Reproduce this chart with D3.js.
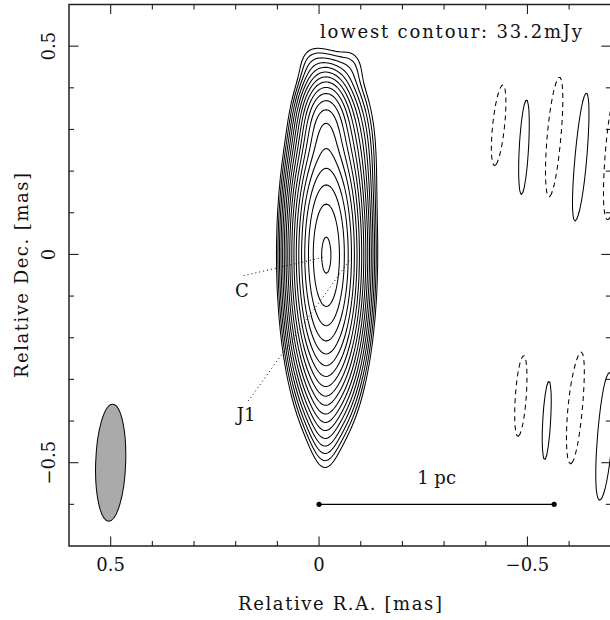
<!DOCTYPE html>
<html><head><meta charset="utf-8">
<script src="https://cdn.jsdelivr.net/npm/d3@7"></script>
<style>body{margin:0;background:#fff}text{font-family:"DejaVu Serif",serif;fill:#111}</style></head>
<body><svg id="c" width="610" height="620"></svg>
<script>
// ---------- data ----------
const lowestContour = 0.0332; // Jy
const levelFactors = [1, 1.41, 2, 2.83, 4, 5.66, 8, 11.3, 16, 22.6, 32, 45.3, 64, 90.5, 128, 181, 256, 362];
// Gaussian components of the source (RA, Dec in mas; flux in Jy; sigma in mas; tilt in deg)
const compName = ["C", "J", "T", "TR", "BL", "BR", "B"];
const compRA   = [-0.0113, -0.0353, -0.0161, -0.0785, 0.0223, -0.0780, -0.0137];
const compDec  = [0.000, -0.0048, 0.310, 0.2496, 0.464, 0.456, -0.254];
const compFlux = [9.6, 3.65, 1.23, 0.133, 0.025, 0.026, 0.21];
const compSigX = [0.0336, 0.0336, 0.0288, 0.0312, 0.024, 0.024, 0.0216];
const compSigY = [0.137, 0.137, 0.0576, 0.096, 0.0336, 0.0336, 0.12];
const compTilt = [0, 0, 0, 0, 0, 0, 0];
// side features (positive = solid, negative = dashed)
const sideRA   = [-0.431, -0.492, -0.566, -0.628, -0.705, -0.484, -0.547, -0.618, -0.683];
const sideDec  = [0.310, 0.257, 0.281, 0.233, 0.235, -0.341, -0.403, -0.367, -0.425];
const sideFlux = [-0.0448, 0.0448, -0.0448, 0.0448, -0.0448, -0.0448, 0.0448, -0.0448, 0.0448];
const sideSigX = [0.0186, 0.0155, 0.0245, 0.0245, 0.0284, 0.0168, 0.0142, 0.0284, 0.0284];
const sideSigY = [0.126, 0.152, 0.195, 0.226, 0.210, 0.124, 0.133, 0.192, 0.223];
const sideTilt = [6, 3, 5, 5, 4, 4, 3, 5, 4];
// beam
const beamCenter = [0.5, -0.5];
const beamFWHM = [0.072, 0.281]; // minor, major (mas)
const beamTilt = 2;
// scale bar
const barRA = [0, -0.564];
const barDec = -0.6;
const barLabel = "1 pc";
// annotations
const annText = ["C", "J1"];
const annLabelPos = [[0.185, -0.103], [0.175, -0.40]];
const annLineFrom = [[0.181, -0.051], [0.17, -0.352]];
const annLineTo = [[-0.010, -0.007], [-0.078, -0.007]];
// axes
const xDomain = [0.6, -0.7], yDomain = [-0.7, 0.6];
const majorTicks = [0.5, 0, -0.5];
const majorLabels = ["0.5", "0", "\u22120.5"];
const minorTicks = [0.4, 0.3, 0.2, 0.1, -0.1, -0.2, -0.3, -0.4, -0.6];
const xTitle = "Relative R.A. [mas]", yTitle = "Relative Dec. [mas]";
const noteText = "lowest contour: 33.2mJy";

// ---------- drawing ----------
const svg = d3.select("#c");
const L = 69, R = 610.8, T = 4.5, B = 546;
const x = d3.scaleLinear().domain(xDomain).range([L, R]);
const y = d3.scaleLinear().domain(yDomain).range([B, T]);

const comps = compRA.map((d, i) => ({ra: d, dec: compDec[i], f: compFlux[i], sx: compSigX[i], sy: compSigY[i], t: compTilt[i]}))
  .concat(sideRA.map((d, i) => ({ra: d, dec: sideDec[i], f: sideFlux[i], sx: sideSigX[i], sy: sideSigY[i], t: sideTilt[i]})));
comps.forEach(c => { const a = c.t * Math.PI / 180; c.c = Math.cos(a); c.s = Math.sin(a); });

function field(ra, dec) {
  let v = 0;
  for (const c of comps) {
    const X = -(ra - c.ra), Y = dec - c.dec;
    const a = X * c.c - Y * c.s, b = X * c.s + Y * c.c;
    const e = a * a / (2 * c.sx * c.sx) + b * b / (2 * c.sy * c.sy);
    if (e < 30) v += c.f * Math.exp(-e);
  }
  return v;
}

const step = 1.5, gx0 = L, gy0 = T;
const nx = Math.ceil((640 - L) / step), ny = Math.ceil((B - T) / step);
const vals = new Float64Array(nx * ny);
for (let j = 0; j < ny; j++) for (let i = 0; i < nx; i++) {
  vals[j * nx + i] = field(x.invert(gx0 + (i + 0.5) * step), y.invert(gy0 + (j + 0.5) * step));
}
const neg = vals.map(v => -v);
const proj = d3.geoTransform({point(px, py) { this.stream.point(gx0 + px * step, gy0 + py * step); }});
const path = d3.geoPath(proj);

svg.append("clipPath").attr("id", "clip").append("rect").attr("x", L).attr("y", T).attr("width", R - L).attr("height", B - T);
const g = svg.append("g").attr("clip-path", "url(#clip)");

const pos = d3.contours().size([nx, ny]).thresholds(levelFactors.map(k => k * lowestContour))(vals);
g.selectAll("path.pos").data(pos).join("path").attr("class", "pos").attr("d", path)
  .attr("fill", "none").attr("stroke", "#000").attr("stroke-width", 1.05);
const ng = d3.contours().size([nx, ny]).thresholds([lowestContour])(neg);
g.selectAll("path.neg").data(ng).join("path").attr("class", "neg").attr("d", path)
  .attr("fill", "none").attr("stroke", "#000").attr("stroke-width", 1.05).attr("stroke-dasharray", "5,4");

// beam
const bx = x(beamCenter[0]), by = y(beamCenter[1]);
svg.append("ellipse").attr("cx", bx).attr("cy", by)
  .attr("rx", Math.abs(x(beamFWHM[0] / 2) - x(0))).attr("ry", Math.abs(y(beamFWHM[1] / 2) - y(0)))
  .attr("transform", `rotate(${beamTilt},${bx},${by})`)
  .attr("fill", "#aaaaaa").attr("stroke", "#000").attr("stroke-width", 1);

// scale bar
svg.append("line").attr("x1", x(barRA[0])).attr("x2", x(barRA[1])).attr("y1", y(barDec)).attr("y2", y(barDec))
  .attr("stroke", "#000").attr("stroke-width", 1.3);
svg.selectAll("circle.bar").data(barRA).join("circle").attr("class", "bar")
  .attr("cx", d => x(d)).attr("cy", y(barDec)).attr("r", 2.6).attr("fill", "#000");
svg.append("text").attr("x", x((barRA[0] + barRA[1]) / 2)).attr("y", 484).attr("text-anchor", "middle")
  .attr("font-size", 18).text(barLabel);

// annotations
annText.forEach((t, i) => {
  svg.append("line").attr("x1", x(annLineFrom[i][0])).attr("y1", y(annLineFrom[i][1]))
    .attr("x2", x(annLineTo[i][0])).attr("y2", y(annLineTo[i][1]))
    .attr("stroke", "#000").attr("stroke-width", 1).attr("stroke-dasharray", "1,3");
  svg.append("text").attr("x", x(annLabelPos[i][0])).attr("y", y(annLabelPos[i][1])).attr("text-anchor", "middle")
    .attr("font-size", 18).text(t);
});

// frame and ticks
svg.append("rect").attr("x", L).attr("y", T).attr("width", R - L).attr("height", B - T)
  .attr("fill", "none").attr("stroke", "#222").attr("stroke-width", 1.5);
const tk = svg.append("g").attr("stroke", "#222").attr("stroke-width", 1.1);
function ticks(vals, len) {
  vals.forEach(v => {
    const px = x(v), py = y(v);
    tk.append("line").attr("x1", px).attr("x2", px).attr("y1", B).attr("y2", B - len);
    tk.append("line").attr("x1", px).attr("x2", px).attr("y1", T).attr("y2", T + len);
    tk.append("line").attr("y1", py).attr("y2", py).attr("x1", L).attr("x2", L + len);
    tk.append("line").attr("y1", py).attr("y2", py).attr("x1", R).attr("x2", R - len);
  });
}
ticks(majorTicks, 9.5);
ticks(minorTicks, 5);

majorTicks.forEach((v, i) => {
  svg.append("text").attr("x", x(v)).attr("y", 571).attr("text-anchor", "middle").attr("font-size", 18).text(majorLabels[i]);
  svg.append("text").attr("transform", `translate(55,${y(v)}) rotate(-90)`).attr("text-anchor", "middle")
    .attr("font-size", 18).text(majorLabels[i]);
});
svg.append("text").attr("x", 340).attr("y", 610).attr("text-anchor", "middle").attr("font-size", 18)
  .attr("textLength", 204).attr("lengthAdjust", "spacing").text(xTitle);
svg.append("text").attr("transform", "translate(28,275.5) rotate(-90)").attr("text-anchor", "middle").attr("font-size", 18)
  .attr("textLength", 205).attr("lengthAdjust", "spacing").text(yTitle);
svg.append("text").attr("x", 320).attr("y", 38).attr("font-size", 18)
  .attr("textLength", 262).attr("lengthAdjust", "spacing").text(noteText);
</script></body></html>
